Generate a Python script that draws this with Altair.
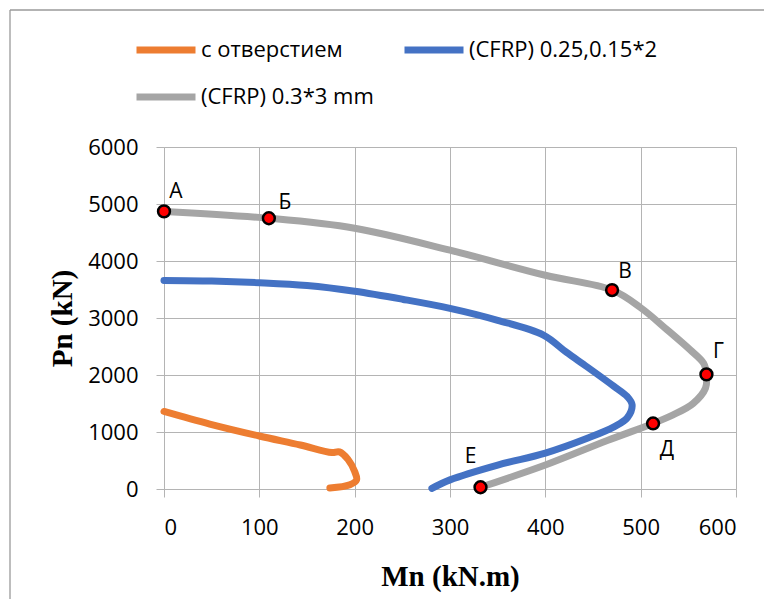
import altair as alt
import pandas as pd

# ---------------- data ----------------
series_names = ["с отверстием", "(CFRP) 0.3*3 mm", "(CFRP) 0.25,0.15*2"]
series_colors = ["#ED7D31", "#A5A5A5", "#4472C4"]

orange_m = [0, 48, 100, 143, 176, 184, 193, 200, 202, 195, 174]
orange_p = [1360, 1140, 930, 772, 640, 652, 520, 305, 160, 75, 18]

blue_m = [0, 50, 100, 150, 200, 250, 300, 350, 398, 422, 444, 472, 486, 491,
          486, 472, 444, 400, 350, 300, 281]
blue_p = [3660, 3650, 3620, 3570, 3470, 3330, 3170, 2960, 2700, 2400, 2140,
          1800, 1620, 1480, 1250, 1090, 890, 630, 420, 160, 10]

gray_m = [0, 110, 200, 300, 400, 470, 500, 528, 552, 566, 569, 568, 555, 534,
          513, 465, 400, 332]
gray_p = [4870, 4750, 4575, 4190, 3750, 3490, 3180, 2790, 2440, 2205, 2010,
          1770, 1500, 1300, 1150, 850, 420, 30]

point_labels = ["А", "Б", "В", "Г", "Д", "Е"]
point_m = [0, 110, 470, 569, 513, 332]
point_p = [4870, 4750, 3490, 2010, 1150, 30]

x_ticks = [0, 100, 200, 300, 400, 500, 600]
y_ticks = [0, 1000, 2000, 3000, 4000, 5000, 6000]

# label offsets (style, px)
label_offsets = {"А": (12, -19), "Б": (16, -15), "В": (13, -18),
                 "Г": (12, -22), "Д": (14, 27), "Е": (-10, -30)}

# ---------------- tables ----------------
rows = []
for name, ms, ps in zip(["с отверстием", "(CFRP) 0.25,0.15*2", "(CFRP) 0.3*3 mm"],
                        [orange_m, blue_m, gray_m], [orange_p, blue_p, gray_p]):
    for i, (m, p) in enumerate(zip(ms, ps)):
        rows.append({"series": name, "Mn": m, "Pn": p, "idx": i})
lines_df = pd.DataFrame(rows)
points_df = pd.DataFrame({"label": point_labels, "Mn": point_m, "Pn": point_p})

W, H = 572, 342
GRID = "#B4B4B4"

xscale = alt.Scale(domain=[0, 600], nice=False)
yscale = alt.Scale(domain=[0, 6000], nice=False)

x_axis = alt.Axis(values=x_ticks, title="Mn (kN.m)", grid=True, tickSize=8,
                  labelPadding=20, titleX=W / 2, titleY=87,
                  titleBaseline="middle")
y_axis = alt.Axis(values=y_ticks, title="Pn (kN)", format="d", grid=True,
                  tickSize=8, labelPadding=18, titleX=-102, titleY=H / 2,
                  titleBaseline="middle")

lines = alt.Chart(lines_df).mark_line(
    strokeWidth=7, strokeCap="round", strokeJoin="round",
    interpolate="catmull-rom"
).encode(
    x=alt.X("Mn:Q", scale=xscale, axis=x_axis),
    y=alt.Y("Pn:Q", scale=yscale, axis=y_axis),
    color=alt.Color(
        "series:N",
        scale=alt.Scale(domain=series_names, range=series_colors),
        legend=alt.Legend(
            title=None, orient="none", legendX=-31, legendY=-130,
            columns=2, columnPadding=16, rowPadding=-2,
            symbolType="stroke", symbolSize=3481, symbolStrokeWidth=7,
            labelFont="Open Sans", labelFontSize=22, labelColor="#000",
            labelOffset=2, labelLimit=400, padding=0,
        ),
    ),
    detail="series:N",
    order="idx:Q",
)

points = alt.Chart(points_df).mark_point(
    shape="circle", filled=True, fill="#FF0000", stroke="#000",
    strokeWidth=2.5, size=140, opacity=1
).encode(x="Mn:Q", y="Pn:Q")

label_layers = []
for lab in point_labels:
    dx, dy = label_offsets[lab]
    label_layers.append(
        alt.Chart(points_df).transform_filter(alt.datum.label == lab)
        .mark_text(font="Open Sans", fontSize=21, color="#000", dx=dx, dy=dy,
                   align="center", baseline="middle")
        .encode(x="Mn:Q", y="Pn:Q", text="label:N")
    )

frame_df = pd.DataFrame({"a": [0]})
frame_top = alt.Chart(frame_df).mark_rule(color="#9A9A9A", strokeWidth=1.3).encode(
    x=alt.value(-154), x2=alt.value(640), y=alt.value(-137))
frame_left = alt.Chart(frame_df).mark_rule(color="#9A9A9A", strokeWidth=1.3).encode(
    x=alt.value(-154), y=alt.value(-137), y2=alt.value(600))

chart = alt.layer(frame_top, frame_left, lines, points, *label_layers).properties(
    width=W, height=H,
    autosize=alt.AutoSizeParams(type="none"),
    padding={"left": 156, "top": 139, "right": 28, "bottom": 110},
    background="white",
).configure_view(strokeWidth=0).configure_axis(
    gridColor=GRID, gridWidth=1, domainColor=GRID, domainWidth=1,
    tickColor=GRID, tickWidth=1,
    labelFont="Open Sans", labelFontSize=22, labelColor="#000",
    titleFont="Liberation Serif", titleFontSize=29, titleFontWeight="bold",
    titleColor="#000",
)

chart.save("out.html", embed_options={"renderer": "svg", "actions": False})
